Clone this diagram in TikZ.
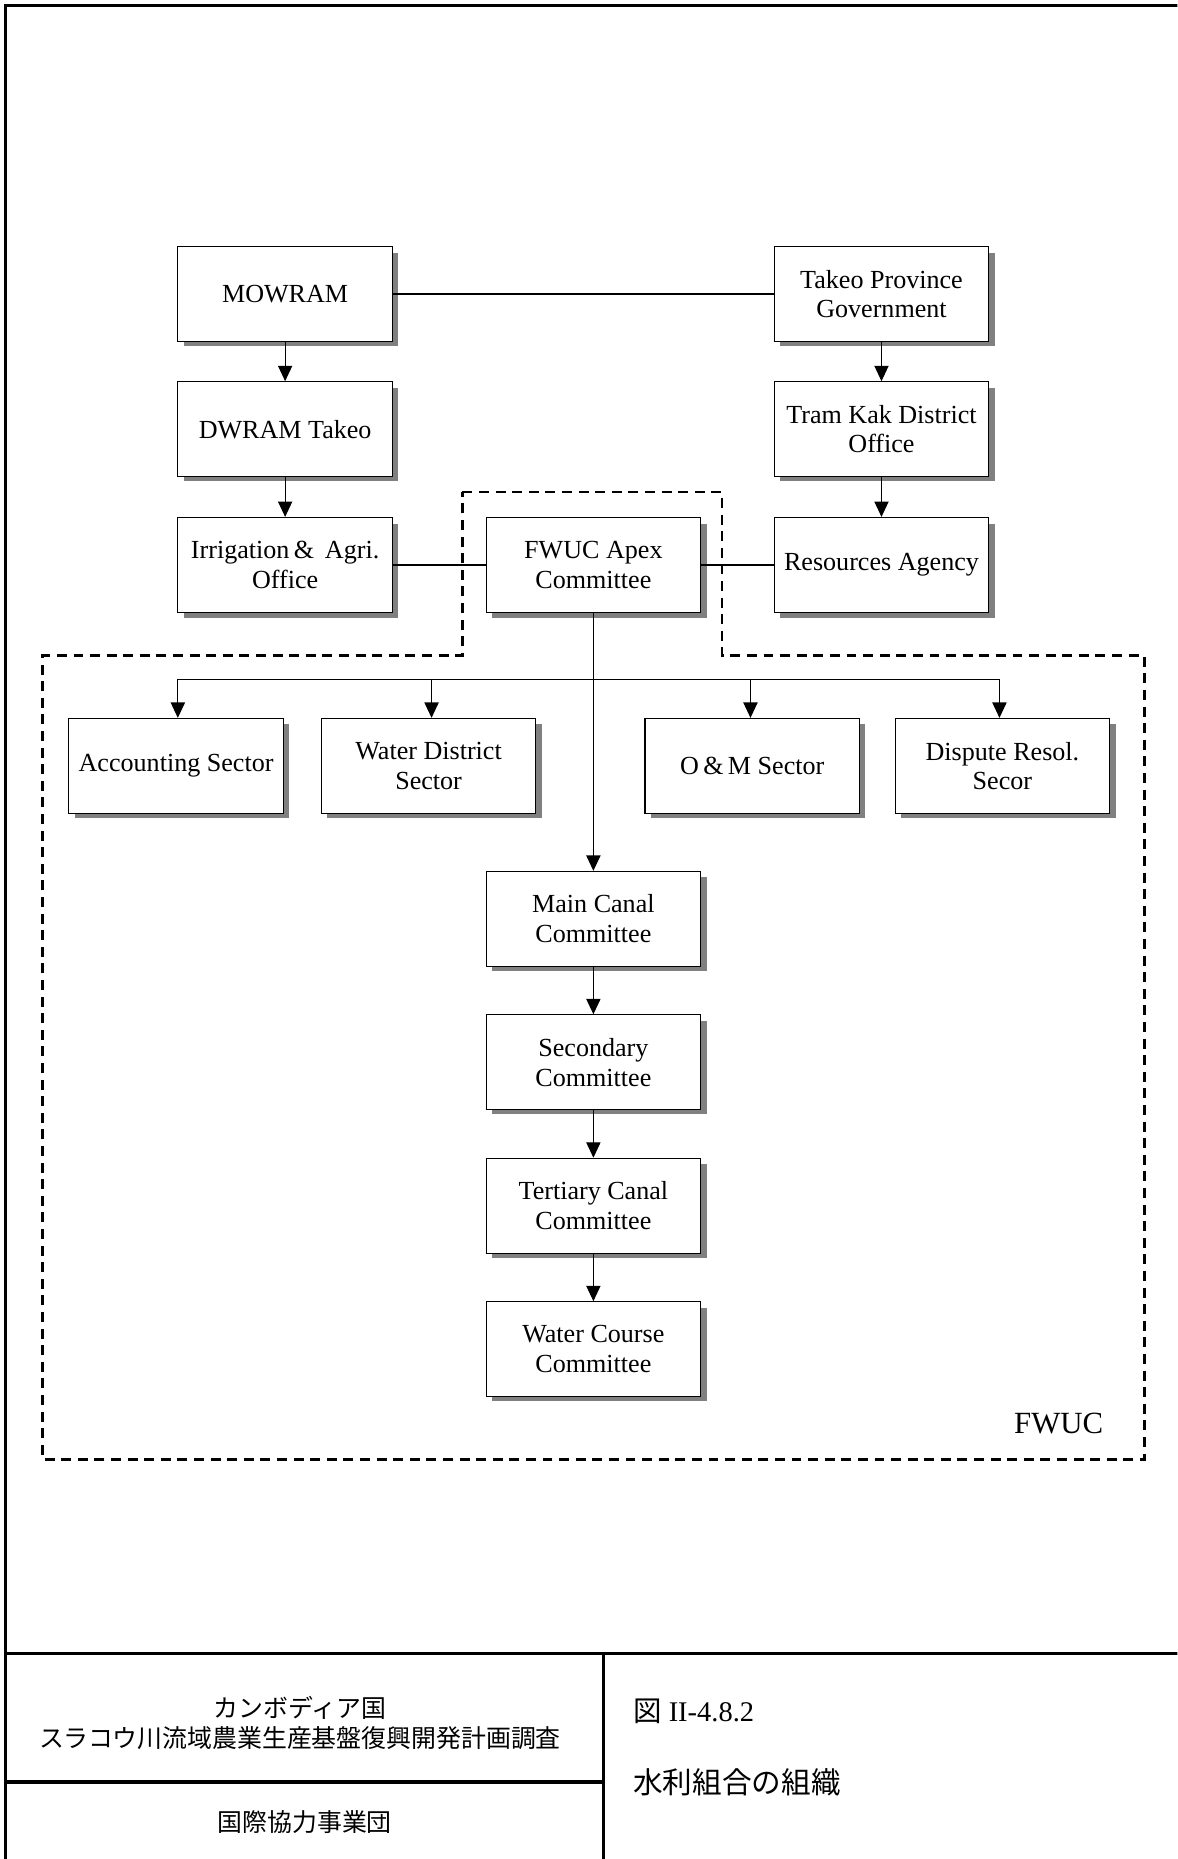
\documentclass[tikz,border=0pt]{standalone}
\usepackage{fontspec}
\setmainfont{Liberation Serif}
\newfontfamily\jpfont{Noto Sans CJK JP}
\usetikzlibrary{arrows.meta,positioning}
\begin{document}
\begin{tikzpicture}[x=0.5pt,y=-0.5pt,
  org/.style={draw,line width=0.5pt,fill=white,minimum width=90.5pt,minimum height=40pt,
    align=center,font=\fontsize{11}{12.5}\selectfont,inner sep=1pt},
  shade/.style={fill=black!50,draw=none},
  link/.style={line width=0.5pt},
  arr/.style={line width=0.5pt,-{Triangle[length=6.5pt,width=6pt]}},
  frame/.style={line width=1.3pt},
  fwuc/.style={line width=1.2pt,dash pattern=on 4.2pt off 2.8pt}]
\useasboundingbox (0,0) rectangle (993,1568);
\begin{scope}
\clip (0,0) rectangle (993,1568);
% outer frame and title block
\draw[frame] (5,1575) -- (5,5) -- (1000,5);
\draw[frame] (5,1395) -- (1000,1395);
\draw[frame] (509,1395) -- (509,1575);
\draw[frame] (5,1503) -- (509,1503);
\end{scope}

% FWUC boundary
\draw[fwuc] (390,415) -- (609,415) -- (609,553) -- (965,553) -- (965,1231)
  -- (36,1231) -- (36,553) -- (390,553) -- cycle;
\node[font=\fontsize{13}{15}\selectfont] (fwuclabel) at (893,1201) {FWUC};

% box shadows
\foreach \x/\y in {150/208,653/208,150/322,653/322,150/437,410/437,653/437,
  58/606,271/606,544/606,755/606,410/735,410/856,410/977,410/1098}
  \fill[shade] (\x+5,\y+5) rectangle (\x+186,\y+84);

% boxes
\node[org] (mowram) at (240.5,248) {MOWRAM};
\node[org] (takeo) at (743.5,248) {Takeo Province\\Government};
\node[org] (dwram) at (240.5,362) {DWRAM Takeo};
\node[org] (tramkak) at (743.5,362) {Tram Kak District\\Office};
\node[org] (irri) at (240.5,476.5) {Irrigation\,\& \,Agri.\\Office};
\node[org] (apex) at (500.5,476.5) {FWUC Apex\\Committee};
\node[org] (res) at (743.5,476.5) {Resources Agency};
\node[org] (acc) at (148.5,646) {Accounting Sector};
\node[org] (wds) at (361.5,646) {Water District\\Sector};
\node[org] (om) at (634.5,646) {O\,\&\,M Sector};
\node[org] (disp) at (845.5,646) {Dispute Resol.\\Secor};
\node[org] (main) at (500.5,775) {Main Canal\\Committee};
\node[org] (sec) at (500.5,896) {Secondary\\Committee};
\node[org] (ter) at (500.5,1017) {Tertiary Canal\\Committee};
\node[org] (wc) at (500.5,1138) {Water Course\\Committee};

% connectors
\draw[link] (mowram) -- (takeo);
\draw[arr] (mowram) -- (dwram);
\draw[arr] (dwram) -- (irri);
\draw[arr] (takeo) -- (tramkak);
\draw[arr] (tramkak) -- (res);
\draw[link] (irri) -- (apex);
\draw[link] (apex) -- (res);
\draw[arr] (apex) -- (main);
\draw[link] (150,573) -- (843,573);
\draw[arr] (150,573) -- (acc.north -| 150,0);
\draw[arr] (364,573) -- (wds.north -| 364,0);
\draw[arr] (633,573) -- (om.north -| 633,0);
\draw[arr] (843,573) -- (disp.north -| 843,0);
\draw[arr] (main) -- (sec);
\draw[arr] (sec) -- (ter);
\draw[arr] (ter) -- (wc);

% title block texts
\node[font=\jpfont\fontsize{10.5}{12.5}\selectfont,align=center] (proj) at (253,1453)
  {カンボディア国\\スラコウ川流域農業生産基盤復興開発計画調査};
\node[font=\jpfont\fontsize{10.5}{12.5}\selectfont] (jica) at (257,1537) {国際協力事業団};
\node[anchor=west,font=\fontsize{12}{14}\selectfont] (fig) at (527,1443) {{\jpfont 図} II-4.8.2};
\node[anchor=west,font=\jpfont\fontsize{12.5}{14}\selectfont] (title) at (527,1503) {水利組合の組織};
\end{tikzpicture}
\end{document}
